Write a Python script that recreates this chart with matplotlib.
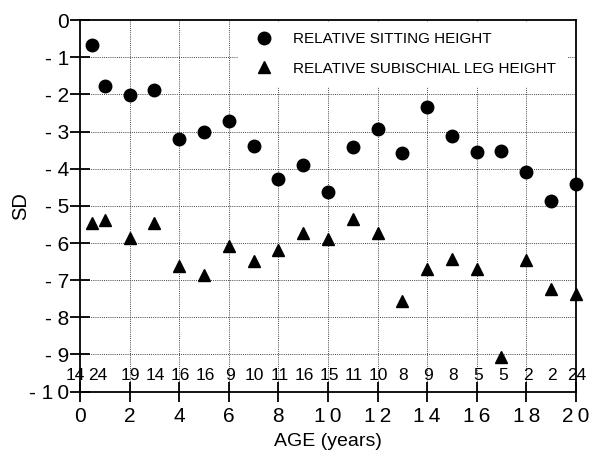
import matplotlib
matplotlib.use('Agg')
import matplotlib.pyplot as plt

plt.rcParams['font.family'] = ['Liberation Sans', 'DejaVu Sans']

ages = [0.5, 1, 2, 3, 4, 5, 6, 7, 8, 9, 10, 11, 12, 13, 14, 15, 16, 17, 18, 19, 20]
sitting_sd = [-0.67, -1.78, -2.02, -1.87, -3.21, -3.00, -2.71, -3.38, -4.29, -3.89, -4.62,
              -3.41, -2.93, -3.57, -2.33, -3.12, -3.54, -3.53, -4.10, -4.87, -4.42]
leg_sd = [-5.46, -5.38, -5.87, -5.46, -6.62, -6.85, -6.07, -6.48, -6.19, -5.74, -5.88,
          -5.36, -5.74, -7.56, -6.71, -6.43, -6.70, -9.06, -6.46, -7.25, -7.36]
n_subjects = [14, 24, 19, 14, 16, 16, 9, 10, 11, 16, 15, 11, 10, 8, 9, 8, 5, 5, 2, 2, 24]

x_ticks = list(range(0, 21, 2))
x_ticklabels = ['0', '2', '4', '6', '8', '1\u20090', '1\u20092', '1\u20094', '1\u20096',
                '1\u20098', '2\u20090']
y_ticks = list(range(0, -11, -1))
y_ticklabels = ['0', '- 1', '- 2', '- 3', '- 4', '- 5', '- 6', '- 7', '- 8', '- 9',
                '- 1\u20090']

fig = plt.figure(figsize=(5.93, 4.57), dpi=100)
ax = fig.add_axes((0.135, 0.143, 0.836, 0.813))

ax.set_xlim(0, 20)
ax.set_ylim(-10, 0)

# dotted grid, drawn under everything
for x in x_ticks[1:-1]:
    ax.axvline(x, color='#444444', lw=0.7, ls=(0, (1, 1.2)), zorder=0)
for y in y_ticks[1:-1]:
    ax.axhline(y, color='#444444', lw=0.7, ls=(0, (1, 1.2)), zorder=0)

ax.plot(ages, sitting_sd, 'o', color='black', ms=9, clip_on=False, zorder=3,
        label='RELATIVE SITTING HEIGHT')
ax.plot(ages, leg_sd, '^', color='black', ms=8, clip_on=False, zorder=3,
        label='RELATIVE SUBISCHIAL LEG HEIGHT')

# sample sizes along the bottom
for i, (a, n) in enumerate(zip(ages, n_subjects)):
    shift = [-0.7, -0.3][i] if i < 2 else 0.05
    ax.text(a + shift, -9.57, str(n), ha='center', va='center', fontsize=12.5)

ax.set_xticks(x_ticks)
ax.set_xticklabels(x_ticklabels)
ax.set_yticks(y_ticks)
ax.set_yticklabels(y_ticklabels)
ax.tick_params(axis='both', direction='inout', length=14, width=1.3, labelsize=15)
ax.tick_params(axis='x', pad=4)
ax.tick_params(axis='y', pad=1)

for s in ax.spines.values():
    s.set_linewidth(1.3)

ax.set_xlabel('AGE (years)', fontsize=14, labelpad=5)
ax.set_ylabel('SD', fontsize=14.5)
ax.yaxis.set_label_coords(-0.10, 0.5)

leg = ax.legend(loc='upper left', bbox_to_anchor=(0.315, 1.0), frameon=True,
                fancybox=False, edgecolor='white', facecolor='white', framealpha=1,
                fontsize=11, handletextpad=0.9, borderpad=0.7, labelspacing=1.0,
                numpoints=1, borderaxespad=0.1)
leg.set_zorder(2)

fig.savefig('out.png', dpi=100, facecolor='white')
plt.close(fig)
